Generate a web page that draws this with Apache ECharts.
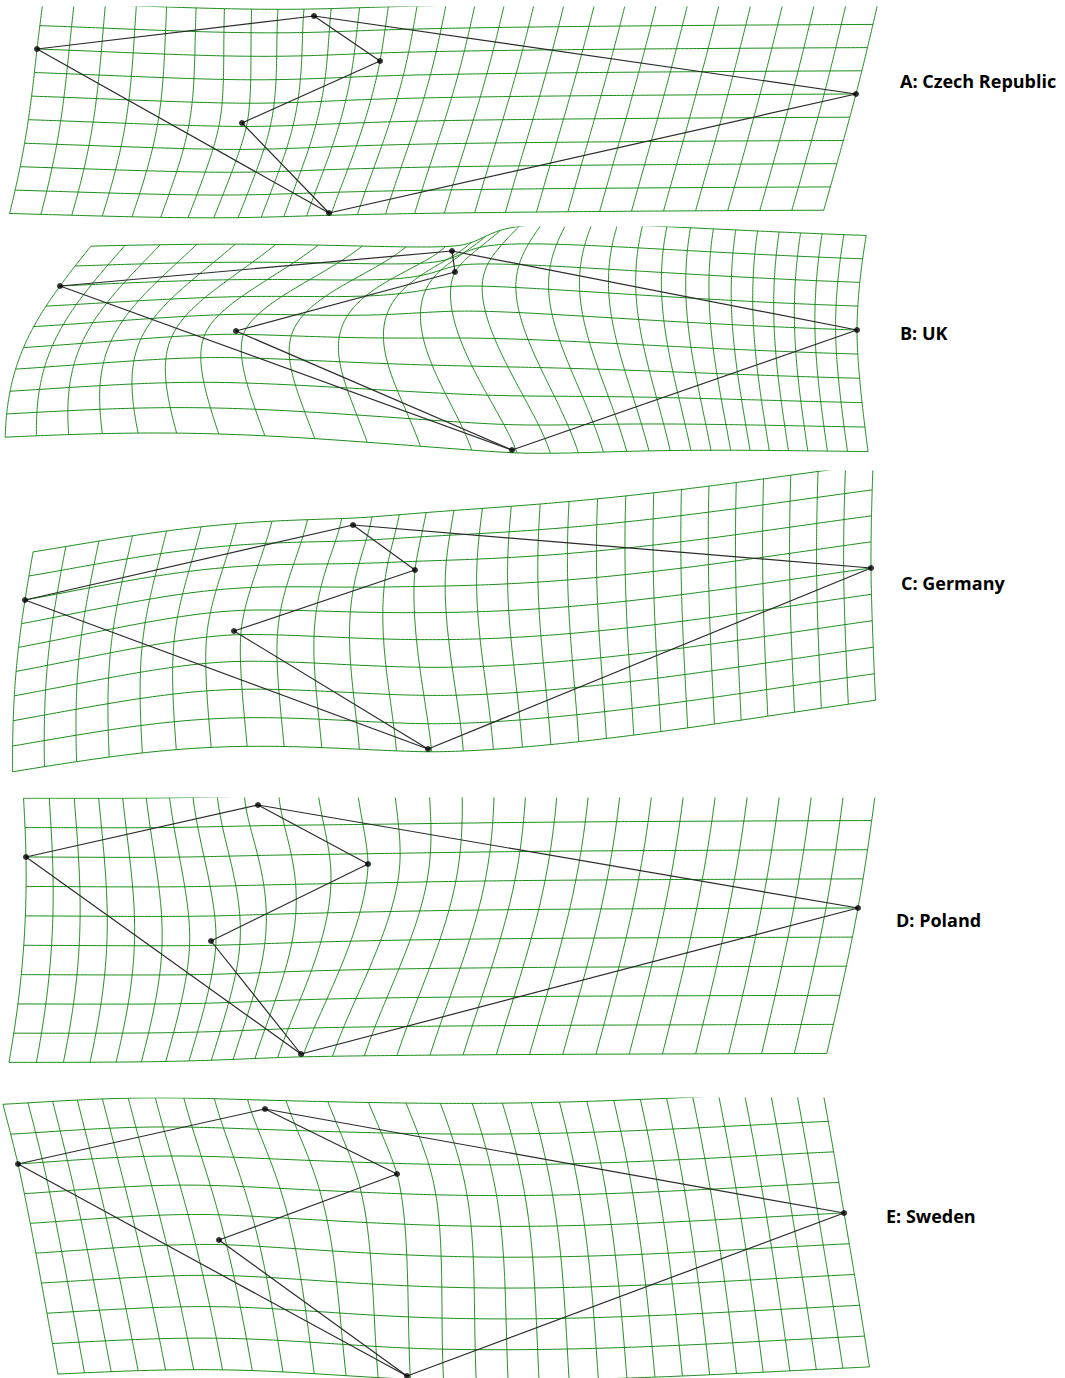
<!DOCTYPE html>
<html>
<head>
<meta charset="utf-8">
<script src="https://cdn.jsdelivr.net/npm/echarts@6/dist/echarts.min.js"></script>
<style>
  html, body { margin: 0; padding: 0; background: #ffffff; }
  #chart { width: 1065px; height: 1378px; }
</style>
</head>
<body>
<div id="chart"></div>
<script>
// Landmark coordinates per country, in drawing units.
// Order: left tip, top, upper notch, inner point, bottom, right tip.
const czechRepublic = [[37, 49], [314, 16], [380, 61], [242, 123], [329, 213], [856, 94]];
const uk            = [[60, 286], [452, 251], [455, 272], [236, 331], [512, 450], [857, 330]];
const germany       = [[25, 600], [353, 525], [415, 570], [234, 631], [428, 749], [871, 568]];
const poland        = [[26, 857], [258, 805], [368, 864], [211, 941], [301, 1054], [858, 908]];
const sweden        = [[18, 1164], [265, 1109], [397, 1174], [219, 1240], [407, 1376], [844, 1213]];

// Consensus (reference) configuration, in grid cells: [column, row]
const consensusCells = [[0, 2.0], [9.4, 0.3], [12.0, 2.35], [6.8, 4.85], [11.9, 8.9], [28, 4.0]];

const countryLabels = ['A: Czech Republic', 'B: UK', 'C: Germany', 'D: Poland', 'E: Sweden'];

// Which landmarks are joined by the outline
const outlineLinks = [[0, 1], [1, 2], [2, 3], [3, 4], [4, 0], [4, 5], [5, 1]];

// Deformation grid size (cells across / down)
const GRID_COLS = 28;
const GRID_ROWS = 9;

// ---- layout -------------------------------------------------------------
const countries = [czechRepublic, uk, germany, poland, sweden];
const panelBands = [[7, 222], [227, 457], [471, 785], [798, 1075], [1098, 1378]];
const labelAnchors = [[900, 81], [900, 333], [901, 583], [896, 920], [886, 1216]];
const PAGE_W = 1065;
const CELL_W = 29.4, CELL_H = 26.4;

// ---- thin-plate spline ---------------------------------------------------
function kernel(r2) { return r2 === 0 ? 0 : r2 * Math.log(r2); }

function solveLinear(A, b) {
  const n = b.length;
  const M = A.map((row, i) => row.concat([b[i]]));
  for (let c = 0; c < n; c++) {
    let piv = c;
    for (let r = c + 1; r < n; r++) if (Math.abs(M[r][c]) > Math.abs(M[piv][c])) piv = r;
    [M[c], M[piv]] = [M[piv], M[c]];
    for (let r = 0; r < n; r++) {
      if (r === c) continue;
      const f = M[r][c] / M[c][c];
      for (let k = c; k <= n; k++) M[r][k] -= f * M[c][k];
    }
  }
  return M.map((row, i) => row[n] / row[i]);
}

function fitSpline(src, dst) {
  const n = src.length, N = n + 3, S = 100;
  const s = src.map(p => [p[0] / S, p[1] / S]);
  const L = Array.from({ length: N }, () => new Array(N).fill(0));
  for (let i = 0; i < n; i++) {
    for (let j = 0; j < n; j++) {
      const dx = s[i][0] - s[j][0], dy = s[i][1] - s[j][1];
      L[i][j] = kernel(dx * dx + dy * dy);
    }
    L[i][n] = L[n][i] = 1;
    L[i][n + 1] = L[n + 1][i] = s[i][0];
    L[i][n + 2] = L[n + 2][i] = s[i][1];
  }
  const bx = dst.map(p => p[0]).concat([0, 0, 0]);
  const by = dst.map(p => p[1]).concat([0, 0, 0]);
  const cx = solveLinear(L, bx), cy = solveLinear(L, by);
  return function (p) {
    const px = p[0] / S, py = p[1] / S;
    let x = cx[n] + cx[n + 1] * px + cx[n + 2] * py;
    let y = cy[n] + cy[n + 1] * px + cy[n + 2] * py;
    for (let i = 0; i < n; i++) {
      const dx = px - s[i][0], dy = py - s[i][1];
      const u = kernel(dx * dx + dy * dy);
      x += cx[i] * u;
      y += cy[i] * u;
    }
    return [x, y];
  };
}

const consensus = consensusCells.map(([c, r]) => [c * CELL_W, r * CELL_H]);

// Regular grid in consensus space, warped onto a country's landmarks
function warpedGrid(target) {
  const warp = fitSpline(consensus, target);
  const lines = [];
  const SUB = 8;
  for (let r = 0; r <= GRID_ROWS; r++) {
    const coords = [];
    for (let k = 0; k <= GRID_COLS * SUB; k++) coords.push(warp([k / SUB * CELL_W, r * CELL_H]));
    lines.push({ coords });
  }
  for (let c = 0; c <= GRID_COLS; c++) {
    const coords = [];
    for (let k = 0; k <= GRID_ROWS * SUB * 2; k++) coords.push(warp([c * CELL_W, k / (SUB * 2) * CELL_H]));
    lines.push({ coords });
  }
  return lines;
}

// ---- chart -----------------------------------------------------------------
const chart = echarts.init(document.getElementById('chart'), null, { renderer: 'svg', width: PAGE_W, height: 1378 });

const grids = [], xAxes = [], yAxes = [], series = [], graphics = [];
countries.forEach((cfg, i) => {
  const [top, bottom] = panelBands[i];
  grids.push({ left: 0, width: PAGE_W, top: top, height: bottom - top, containLabel: false });
  xAxes.push({ gridIndex: i, type: 'value', min: 0, max: PAGE_W, show: false });
  yAxes.push({ gridIndex: i, type: 'value', min: top, max: bottom, inverse: true, show: false });

  series.push({
    type: 'lines', coordinateSystem: 'cartesian2d', xAxisIndex: i, yAxisIndex: i,
    polyline: true, clip: true, silent: true,
    lineStyle: { color: '#1a8c1a', width: 1, opacity: 1 },
    data: warpedGrid(cfg), z: 1
  });
  series.push({
    type: 'lines', coordinateSystem: 'cartesian2d', xAxisIndex: i, yAxisIndex: i,
    clip: false, silent: true,
    lineStyle: { color: '#2b2b2b', width: 1.2, opacity: 1 },
    data: outlineLinks.map(([a, b]) => ({ coords: [cfg[a], cfg[b]] })), z: 2
  });
  series.push({
    type: 'scatter', xAxisIndex: i, yAxisIndex: i, clip: false, silent: true,
    symbol: 'circle', symbolSize: 6,
    itemStyle: { color: '#000000' },
    data: cfg, z: 3
  });

  graphics.push({
    type: 'text', x: labelAnchors[i][0], y: labelAnchors[i][1],
    style: {
      text: countryLabels[i], fill: '#000000',
      font: 'bold 18px "Open Sans", sans-serif',
      align: 'left', verticalAlign: 'middle'
    }
  });
});

chart.setOption({
  animation: false,
  backgroundColor: '#ffffff',
  grid: grids,
  xAxis: xAxes,
  yAxis: yAxes,
  series: series,
  graphic: graphics
});
</script>
</body>
</html>
